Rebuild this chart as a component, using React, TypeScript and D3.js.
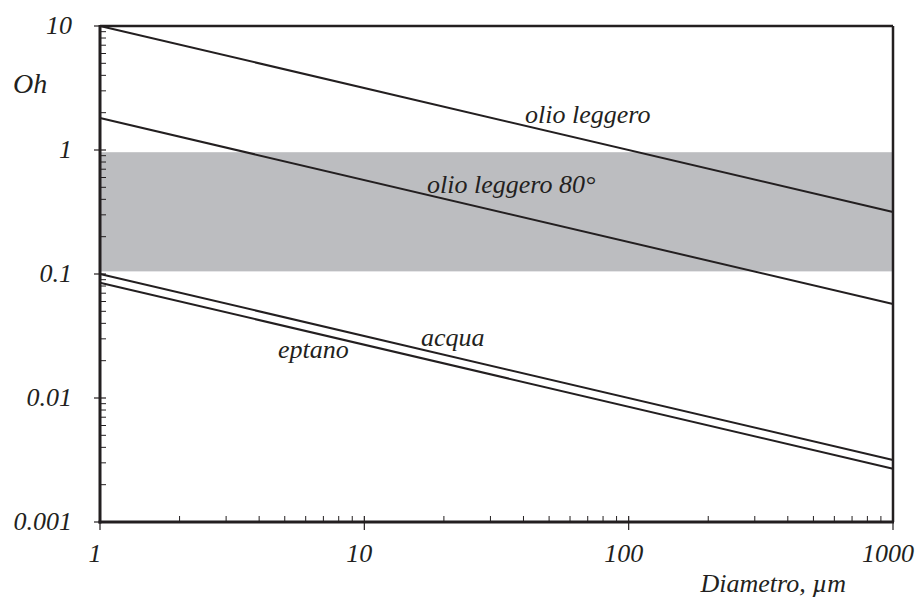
import React, { useEffect, useRef } from 'react';
import * as d3 from 'd3';

// Oh number vs droplet diameter (log-log)
const diameters = [1, 1000];
const olioLeggero = [10, 0.316];
const olioLeggero80 = [1.81, 0.0573];
const acqua = [0.1, 0.00316];
const eptano = [0.085, 0.00269];

const seriesNames = ['olio leggero', 'olio leggero 80°', 'acqua', 'eptano'];
const seriesValues = [olioLeggero, olioLeggero80, acqua, eptano];

// gray band of Oh values
const bandRange = [0.96, 0.105];

const xTicks = [1, 10, 100, 1000];
const xTickLabels = ['1', '10', '100', '1000'];
const yTicks = [10, 1, 0.1, 0.01, 0.001];
const yTickLabels = ['10', '1', '0.1', '0.01', '0.001'];

const ink = '#231f20';
const font = 'Liberation Serif';

const App = () => {
  const svgRef = useRef<SVGSVGElement | null>(null);

  useEffect(() => {
    const svg = d3.select(svgRef.current);
    svg.selectAll('*').remove();

    const x = d3.scaleLog().domain([1, 1000]).range([100, 893]);
    const y = d3.scaleLog().domain([0.001, 10]).range([522, 26]);

    // band
    svg.append('rect')
      .attr('x', x(1) + 1)
      .attr('y', y(bandRange[0]))
      .attr('width', x(1000) - x(1) - 2)
      .attr('height', y(bandRange[1]) - y(bandRange[0]))
      .attr('fill', '#bcbdc0');

    // series lines
    const line = d3.line<number>()
      .x((_, i) => x(diameters[i]))
      .y(d => y(d));

    seriesValues.forEach(vals => {
      svg.append('path')
        .attr('d', line(vals))
        .attr('fill', 'none')
        .attr('stroke', ink)
        .attr('stroke-width', 2);
    });

    // frame
    svg.append('line').attr('x1', x(1)).attr('x2', x(1000)).attr('y1', y(10)).attr('y2', y(10))
      .attr('stroke', ink).attr('stroke-width', 2.5);
    svg.append('line').attr('x1', x(1000)).attr('x2', x(1000)).attr('y1', y(10)).attr('y2', y(0.001))
      .attr('stroke', ink).attr('stroke-width', 2.5);
    svg.append('line').attr('x1', x(1)).attr('x2', x(1)).attr('y1', y(10) - 1).attr('y2', y(0.001) + 1.5)
      .attr('stroke', ink).attr('stroke-width', 3);
    svg.append('line').attr('x1', x(1) - 1.5).attr('x2', x(1000) + 1).attr('y1', y(0.001)).attr('y2', y(0.001))
      .attr('stroke', ink).attr('stroke-width', 3);

    // minor ticks
    const minorX: number[] = [];
    const minorY: number[] = [];
    for (let p = 0; p < 3; p++) for (let k = 2; k <= 9; k++) minorX.push(k * Math.pow(10, p));
    for (let p = -3; p < 1; p++) for (let k = 2; k <= 9; k++) minorY.push(k * Math.pow(10, p));

    minorX.forEach(v => {
      svg.append('line').attr('x1', x(v)).attr('x2', x(v)).attr('y1', y(0.001)).attr('y2', y(0.001) - 6)
        .attr('stroke', ink).attr('stroke-width', 1);
    });
    minorY.forEach(v => {
      svg.append('line').attr('x1', x(1)).attr('x2', x(1) + 6).attr('y1', y(v)).attr('y2', y(v))
        .attr('stroke', ink).attr('stroke-width', 1);
    });

    // major ticks
    xTicks.forEach(v => {
      svg.append('line').attr('x1', x(v)).attr('x2', x(v)).attr('y1', y(0.001) - 6).attr('y2', y(0.001) + 8)
        .attr('stroke', ink).attr('stroke-width', 1.2);
    });
    yTicks.forEach(v => {
      svg.append('line').attr('x1', x(1) - 6).attr('x2', x(1) + 6).attr('y1', y(v)).attr('y2', y(v))
        .attr('stroke', ink).attr('stroke-width', 1.2);
    });

    const txt = (s: string, tx: number, ty: number, anchor: string, size: number) =>
      svg.append('text')
        .attr('x', tx)
        .attr('y', ty)
        .attr('text-anchor', anchor)
        .style('font-family', font)
        .style('font-style', 'italic')
        .style('font-size', `${size}px`)
        .attr('fill', ink)
        .text(s);

    // tick labels
    xTicks.forEach((v, i) => txt(xTickLabels[i], x(v) - 5, 562, 'middle', 26));
    yTicks.forEach((v, i) => txt(yTickLabels[i], 72, y(v) + 8, 'end', 26));

    // axis titles
    txt('Oh', 13, 93, 'start', 28);
    txt('Diametro, µm', 846, 592, 'end', 26);

    // series labels
    txt(seriesNames[0], 525, 123, 'start', 26);
    txt(seriesNames[1], 427, 193, 'start', 26);
    txt(seriesNames[2], 421, 346, 'start', 26);
    txt(seriesNames[3], 278, 358, 'start', 26);
  }, []);

  return (
    <svg
      ref={svgRef}
      width={916}
      height={601}
      style={{ position: 'absolute', left: 0, top: 0, display: 'block' }}
    />
  );
};

export default App;
